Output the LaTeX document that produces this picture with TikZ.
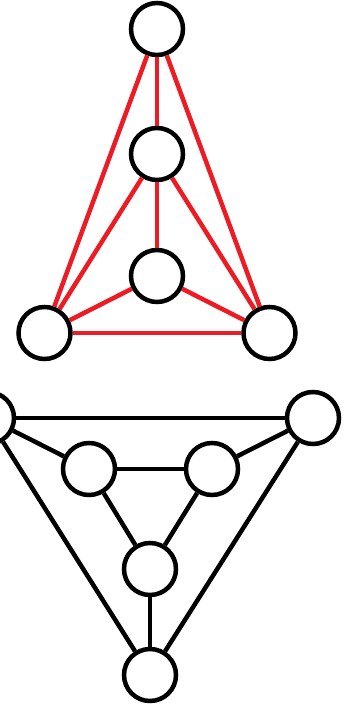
\documentclass[tikz,border=0pt]{standalone}
\definecolor{paintred}{RGB}{237,28,36}
\begin{document}
\begin{tikzpicture}[x=1pt,y=-1pt,
  vtx/.style={circle,draw=black,line width=4.5pt,fill=white,minimum size=52pt,inner sep=0pt},
  redge/.style={draw=paintred,line width=4.5pt},
  bedge/.style={draw=black,line width=4.5pt}]
\clip (0,0) rectangle (344,706);
\fill[white] (0,0) rectangle (344,706);
% top graph
\node[vtx] (A) at (157,29) {};
\node[vtx] (B) at (157,154) {};
\node[vtx] (C) at (157,276) {};
\node[vtx] (D) at (44.5,333) {};
\node[vtx] (E) at (269.5,333) {};
% bottom graph
\node[vtx] (F) at (-12,418) {};
\node[vtx] (G) at (313,418) {};
\node[vtx] (H) at (89,469) {};
\node[vtx] (I) at (212,469) {};
\node[vtx] (J) at (150,569) {};
\node[vtx] (K) at (150,675) {};
\path[redge] (A) -- (B);
\path[redge] (B) -- (C);
\path[redge] (A) -- (D);
\path[redge] (A) -- (E);
\path[redge] (B) -- (D);
\path[redge] (B) -- (E);
\path[redge] (C) -- (D);
\path[redge] (C) -- (E);
\path[redge] (D) -- (E);
\path[bedge] (F) -- (G);
\path[bedge] (F) -- (H);
\path[bedge] (G) -- (I);
\path[bedge] (H) -- (I);
\path[bedge] (H) -- (J);
\path[bedge] (I) -- (J);
\path[bedge] (J) -- (K);
\path[bedge] (F) -- (K);
\path[bedge] (G) -- (K);
\end{tikzpicture}
\end{document}
